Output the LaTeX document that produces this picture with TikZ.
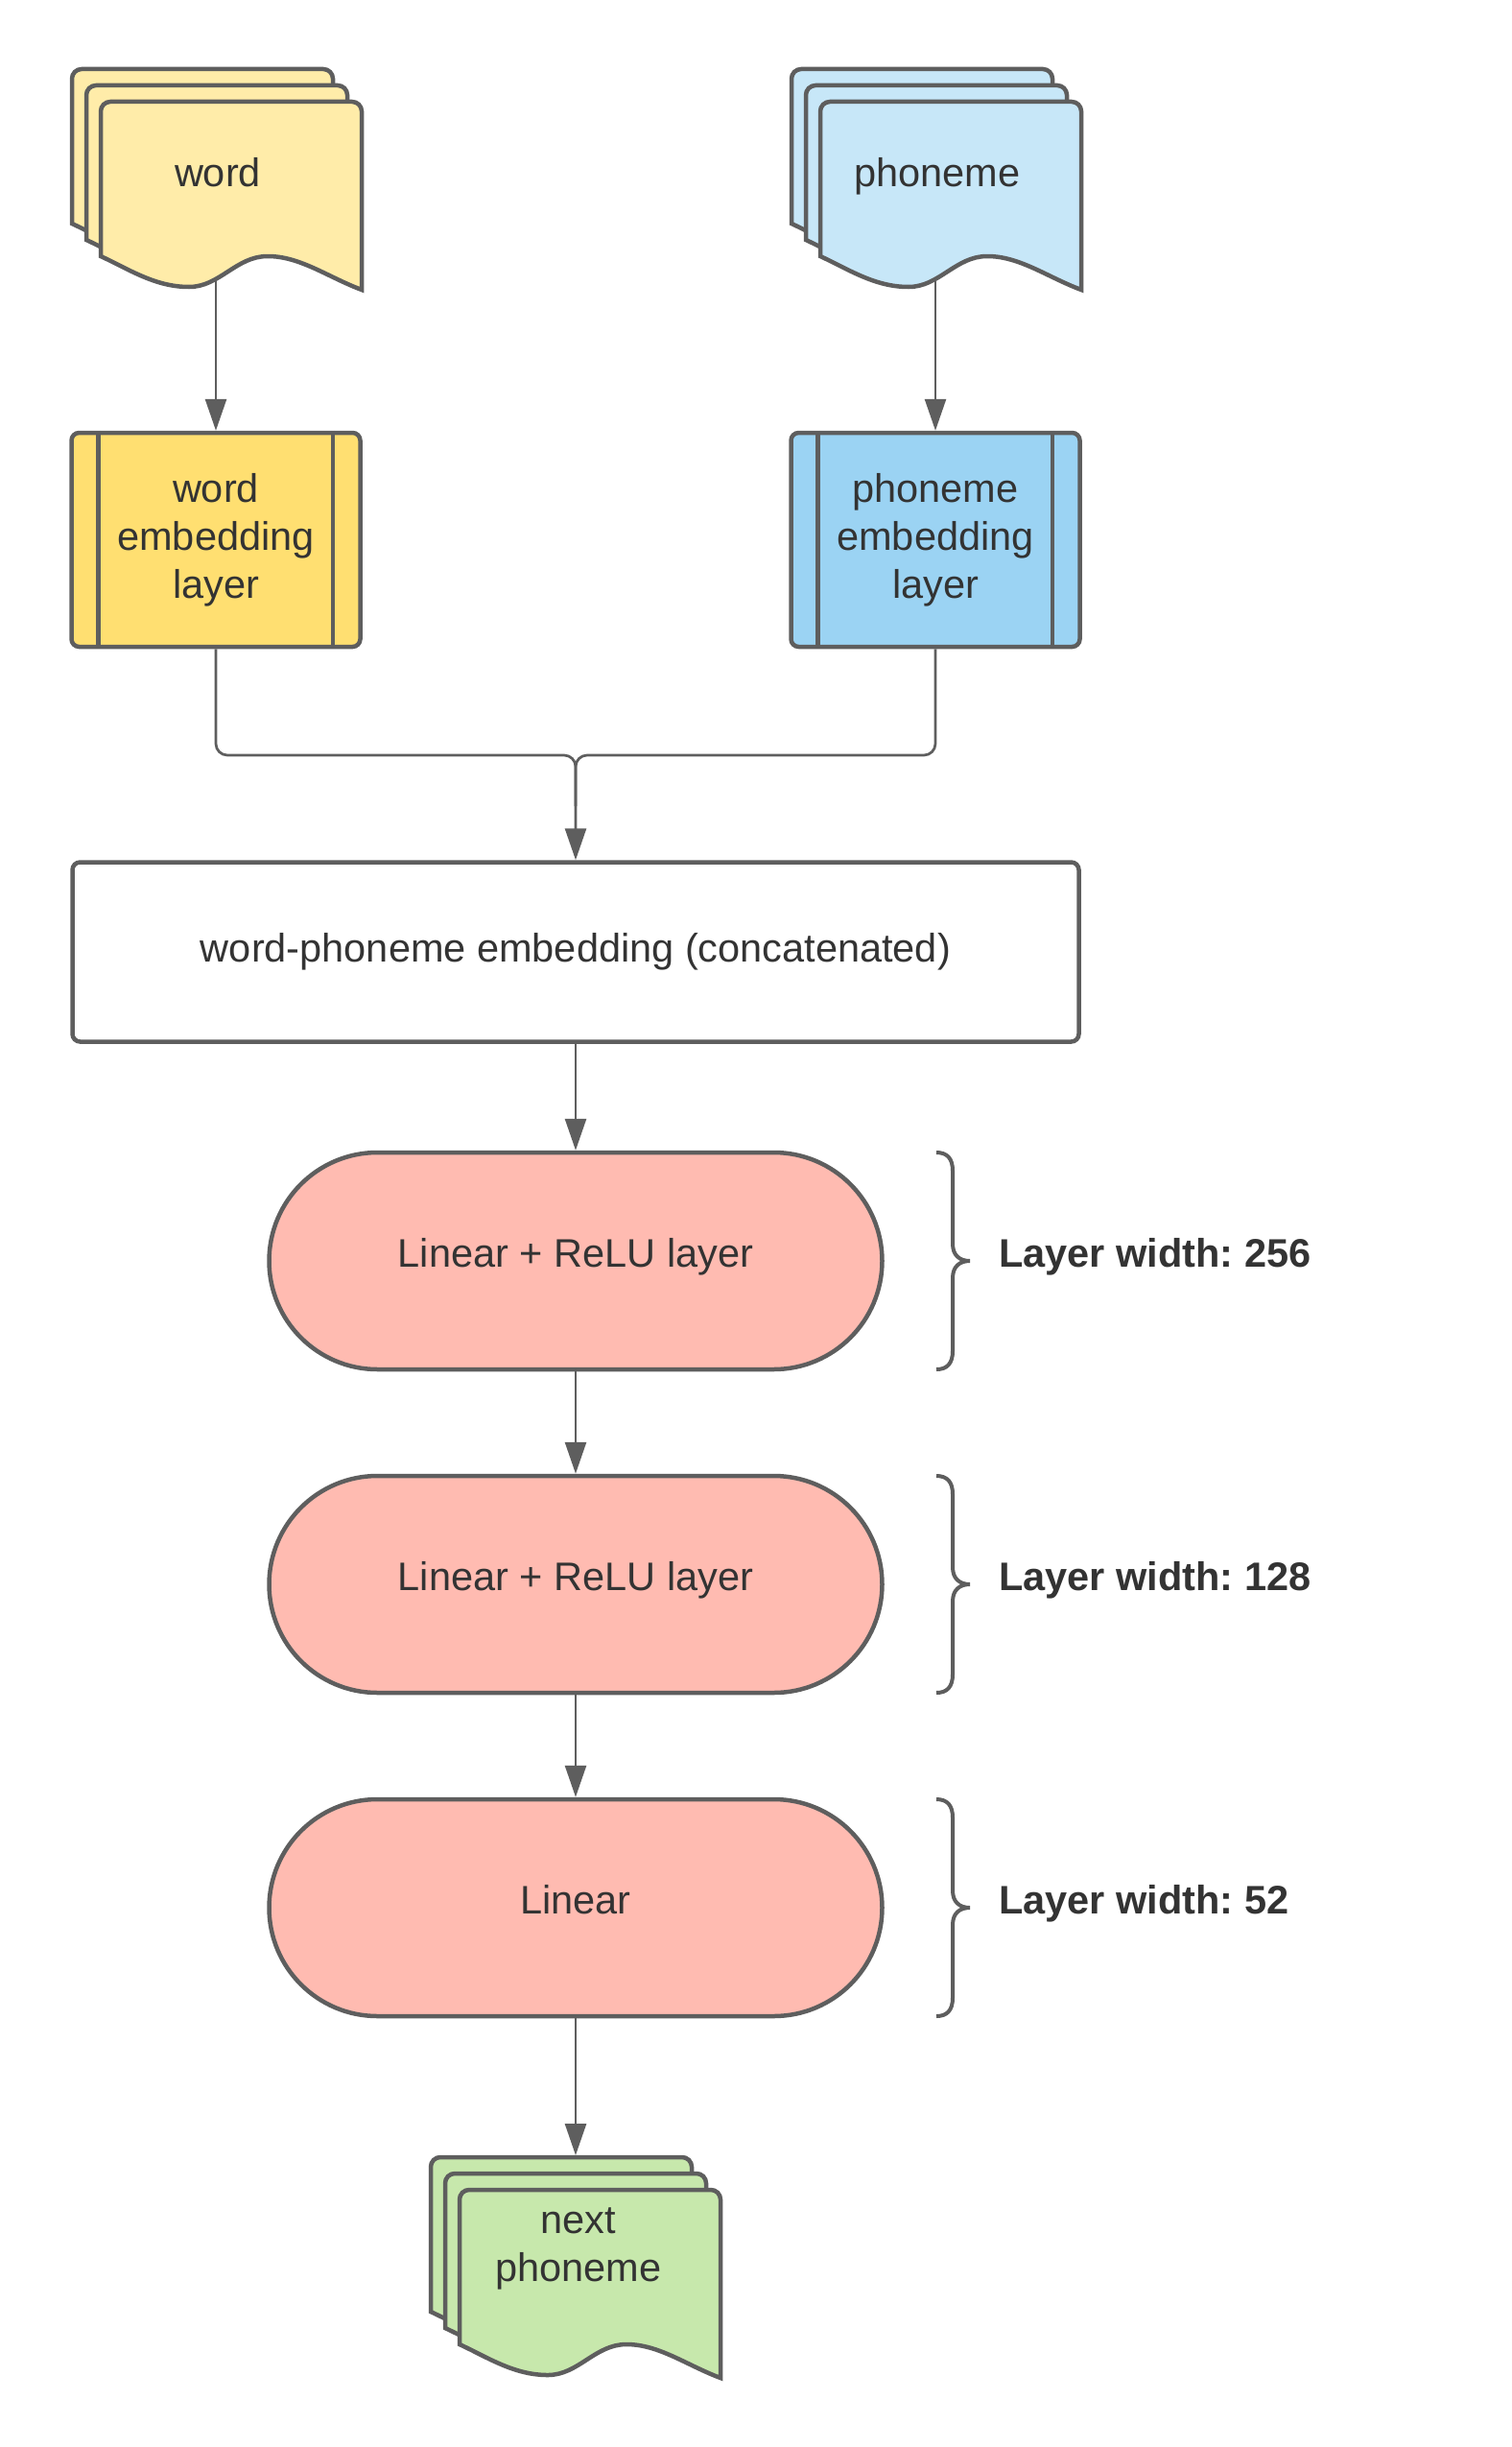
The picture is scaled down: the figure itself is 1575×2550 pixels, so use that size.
\documentclass[tikz,border=0pt]{standalone}
\usepackage{fontspec}
\setmainfont{Liberation Sans}
\frenchspacing
\usetikzlibrary{arrows.meta,calc}
\definecolor{strokec}{HTML}{5E5E5E}
\definecolor{textc}{HTML}{333333}
\definecolor{ylight}{HTML}{FFECA9}
\definecolor{ydark}{HTML}{FFDF71}
\definecolor{blight}{HTML}{C7E7F8}
\definecolor{bdark}{HTML}{9BD3F3}
\definecolor{pinkc}{HTML}{FFBBB1}
\definecolor{greenc}{HTML}{C7E8AC}
\tikzset{
  shapeln/.style={draw=strokec, line width=4.5pt},
  conn/.style={draw=strokec, line width=2.7pt},
  arr/.style={conn, -{Triangle[length=33pt,width=22pt]}},
  braceln/.style={draw=strokec, line width=4pt},
  txt/.style={text=textc, font=\fontsize{41.5}{50}\selectfont, align=center, inner sep=0pt},
  lbl/.style={text=textc, font=\fontsize{41.5}{50}\selectfont\bfseries, inner sep=0pt, anchor=west},
  embbox/.style={shapeln, txt, rounded corners=8pt, minimum width=301pt, minimum height=223pt},
  catbox/.style={shapeln, txt, fill=white, rounded corners=8pt, minimum width=1049pt, minimum height=187pt},
  pill/.style={shapeln, txt, fill=pinkc, rounded corners=113pt, minimum width=639pt, minimum height=226pt},
}
\newcommand{\docsheet}[3]{%
  \filldraw[shapeln, fill=#3] (#1,#2+161) -- (#1,#2+10)
    .. controls (#1,#2+4.5) and (#1+4.5,#2) .. (#1+10,#2) -- (#1+262,#2)
    .. controls (#1+267.5,#2) and (#1+272,#2+4.5) .. (#1+272,#2+10) -- (#1+272,#2+196)
    .. controls (#1+237,#2+183) and (#1+208,#2+161) .. (#1+174,#2+161)
    .. controls (#1+141,#2+161) and (#1+124,#2+193) .. (#1+92,#2+193)
    .. controls (#1+57,#2+193) and (#1+30,#2+175) .. (#1,#2+161) -- cycle;}
\newcommand{\docstack}[3]{\docsheet{#1}{#2}{#3}\docsheet{#1+15}{#2+17}{#3}\docsheet{#1+30}{#2+34}{#3}}
\newcommand{\widthbrace}[1]{%
  \draw[braceln] (976,#1-113) .. controls (987,#1-113) and (993,#1-107) .. (993,#1-94)
    -- (993,#1-18) .. controls (993,#1-6) and (1000,#1) .. (1011,#1)
    .. controls (1000,#1) and (993,#1+6) .. (993,#1+18)
    -- (993,#1+94) .. controls (993,#1+107) and (987,#1+113) .. (976,#1+113);}
\newcommand{\pilltext}[1]{\raisebox{-6.5pt}[0pt][0pt]{#1}}
\begin{document}
\begin{tikzpicture}[x=1pt, y=-1pt]
\fill[white] (0,0) rectangle (1575,2550);
\useasboundingbox (0,0) rectangle (1575,2550);

% input documents
\docstack{75}{72}{ylight}
\docstack{825}{72}{blight}
\node[txt, anchor=base] (wordtxt) at (227,195) {word};
\node[txt, anchor=base] (phontxt) at (977,195) {phoneme};
\coordinate (wordout) at (225,290);
\coordinate (phonout) at (975,290);

% embedding layers
\node[embbox, fill=ydark] (we) at (225,562.5) {word\\embedding\\layer};
\node[embbox, fill=bdark] (pe) at (975,562.5) {phoneme\\embedding\\layer};
\draw[shapeln] ([xshift=30pt]we.north west) -- ([xshift=30pt]we.south west);
\draw[shapeln] ([xshift=-31pt]we.north east) -- ([xshift=-31pt]we.south east);
\draw[shapeln] ([xshift=30pt]pe.north west) -- ([xshift=30pt]pe.south west);
\draw[shapeln] ([xshift=-31pt]pe.north east) -- ([xshift=-31pt]pe.south east);

% concatenated
\node[catbox] (cat) at (600,992) {word-phoneme embedding (concatenated)};

% layers
\node[pill] (p1) at (600,1314) {\pilltext{Linear + ReLU layer}};
\node[pill] (p2) at (600,1651) {\pilltext{Linear + ReLU layer}};
\node[pill] (p3) at (600,1988) {\pilltext{Linear}};

% output document
\docstack{449}{2248}{greenc}
\node[txt] (nexttxt) at (603,2343) {next\\phoneme};
\coordinate (nextin) at (600,2246);

% connectors
\draw[arr] (wordout) -- (wordout |- we.north);
\draw[arr] (phonout) -- (phonout |- pe.north);
\coordinate (junc) at (600,787);
\coordinate (juncb) at (600,840);
\draw[conn, rounded corners=12pt] (we.south) -- (we.south |- junc) -- (junc) -- (juncb);
\draw[arr, rounded corners=12pt] (pe.south) -- (pe.south |- junc) -- (junc) -- (cat.north);
\draw[arr] (cat) -- (p1);
\draw[arr] (p1) -- (p2);
\draw[arr] (p2) -- (p3);
\draw[arr] (p3) -- (nextin);

% braces and labels
\widthbrace{1314}
\widthbrace{1651}
\widthbrace{1988}
\node[lbl] (l1) at (1041,1310) {Layer width: 256};
\node[lbl] (l2) at (1041,1647) {Layer width: 128};
\node[lbl] (l3) at (1041,1984) {Layer width: 52};
\end{tikzpicture}
\end{document}
